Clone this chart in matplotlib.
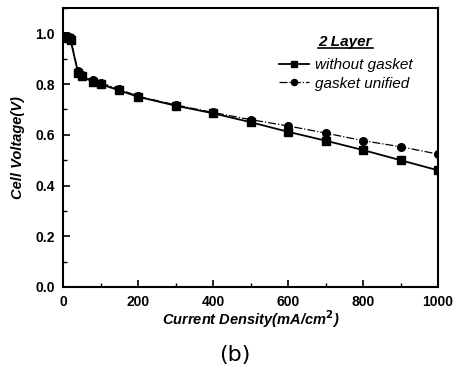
import matplotlib.pyplot as plt
from matplotlib.ticker import MultipleLocator

plt.rcParams['font.family'] = ['Liberation Sans', 'DejaVu Sans']

# current density (mA/cm2)
current = [5, 10, 15, 20, 40, 50, 80, 100, 150, 200, 300, 400, 500, 600, 700, 800, 900, 1000]
# cell voltage (V)
v_without = [0.985, 0.98, 0.98, 0.975, 0.845, 0.83, 0.81, 0.80, 0.775, 0.75, 0.715, 0.685,
             0.65, 0.612, 0.577, 0.54, 0.50, 0.46]
v_unified = [0.99, 0.985, 0.985, 0.98, 0.85, 0.835, 0.815, 0.805, 0.78, 0.752, 0.718, 0.688,
             0.66, 0.635, 0.607, 0.577, 0.553, 0.524]

fig = plt.figure(figsize=(4.65, 3.86), dpi=100)
ax = fig.add_axes([63 / 465, 1 - 287 / 386, 375 / 465, 279 / 386])

l1, = ax.plot(current, v_without, color='black', lw=1.3, marker='s', ms=6,
              label='without gasket')
l2, = ax.plot(current, v_unified, color='black', lw=0.9, ls='-.', marker='o', ms=5.5,
              label='gasket unified')

ax.set_xlim(0, 1000)
ax.set_ylim(0, 1.1)
ax.xaxis.set_major_locator(MultipleLocator(200))
ax.xaxis.set_minor_locator(MultipleLocator(100))
ax.yaxis.set_minor_locator(MultipleLocator(0.1))
ax.set_yticks([0, 0.2, 0.4, 0.6, 0.8, 1.0])
ax.set_yticklabels(['0.0', '0.2', '0.4', '0.6', '0.8', '1.0'])
ax.tick_params(which='both', direction='in', top=False, right=False)
ax.tick_params(which='major', length=5, width=1.2, labelsize=10)
ax.tick_params(axis='x', which='major', pad=6)
ax.tick_params(axis='y', which='major', pad=6)
ax.tick_params(which='minor', length=3, width=1)
for lab in ax.get_xticklabels() + ax.get_yticklabels():
    lab.set_fontweight('bold')
for s in ax.spines.values():
    s.set_linewidth(1.5)

ax.set_xlabel('Current Density(mA/cm$^\\mathbf{2}$)', fontsize=10.5, fontweight='bold',
              fontstyle='italic')
ax.xaxis.set_label_coords(0.5, -0.115)
ax.xaxis.label.set_va('center')
ax.set_ylabel('Cell Voltage(V)', fontsize=10.5, fontweight='bold', fontstyle='italic',
              labelpad=7)

# legend title, underlined
ax.text(0.753, 0.878, '2 Layer', transform=ax.transAxes, ha='center', va='center',
        fontsize=11, fontweight='bold', fontstyle='italic')
ax.plot([0.68, 0.826], [0.855, 0.855], transform=ax.transAxes, color='black', lw=1.2)

leg = ax.legend(handles=[l1, l2], loc='upper left', bbox_to_anchor=(0.575, 0.82),
                frameon=False, fontsize=11, handlelength=2.0, handletextpad=0.4,
                labelspacing=0.3, borderpad=0, borderaxespad=0, markerscale=0.8)
for t in leg.get_texts():
    t.set_fontstyle('italic')

fig.text(235 / 465, 1 - 355 / 386, '(b)', ha='center', va='center', fontsize=16,
         family='DejaVu Sans')

fig.savefig('out.png', dpi=100)
